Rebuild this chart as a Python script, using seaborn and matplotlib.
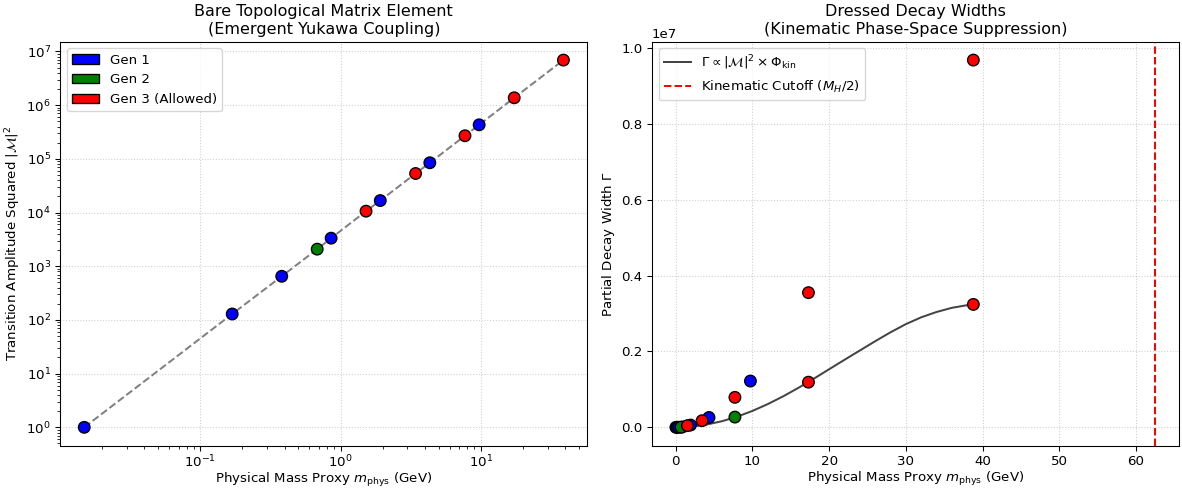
import matplotlib
matplotlib.use("Agg")
import matplotlib.pyplot as plt
from matplotlib.patches import Patch
import seaborn as sns
import pandas as pd

# --- left panel: bare matrix element per state ---
mass = [0.0149, 0.169, 0.381, 0.682, 0.857, 1.52, 1.92, 3.43, 4.33, 7.71, 9.73, 17.3, 38.8]
amp2 = [1.0, 129, 650, 2080, 3330, 10600, 16700, 53300, 84500, 269000, 430000, 1.37e6, 6.9e6]
gen = ["Gen 1", "Gen 1", "Gen 1", "Gen 2", "Gen 1", "Gen 3", "Gen 1", "Gen 3",
       "Gen 1", "Gen 3", "Gen 1", "Gen 3", "Gen 3"]

# --- right panel: dressed widths (blue first, then green, then red) ---
w_mass = [0.0149, 0.169, 0.381, 0.857, 1.92, 4.33, 9.73,
          0.682, 7.71,
          1.52, 3.43, 7.71, 17.3, 17.3, 38.8, 38.8]
w_gamma = [0.0, 0.0001e6, 0.002e6, 0.01e6, 0.06e6, 0.26e6, 1.22e6,
           0.002e6, 0.27e6,
           0.044e6, 0.175e6, 0.79e6, 1.19e6, 3.55e6, 3.24e6, 9.68e6]
w_gen = ["Gen 1"] * 7 + ["Gen 2"] * 2 + ["Gen 3"] * 7

# phase-space curve
curve_m = [0.0149, 2, 4, 6, 8, 10, 12, 14, 16, 18, 20, 22, 24, 26, 28, 30, 32, 34, 36, 38, 38.8]
curve_g = [0.0, 0.018e6, 0.072e6, 0.160e6, 0.281e6, 0.433e6, 0.613e6, 0.817e6, 1.042e6,
           1.282e6, 1.532e6, 1.780e6, 2.025e6, 2.270e6, 2.505e6, 2.720e6, 2.900e6,
           3.040e6, 3.150e6, 3.220e6, 3.240e6]

cutoff = 62.5
gen_colors = {"Gen 1": "blue", "Gen 2": "green", "Gen 3": "red"}

df_bare = pd.DataFrame({"mass": mass, "amp2": amp2, "gen": gen})
df_width = pd.DataFrame({"mass": w_mass, "gamma": w_gamma, "gen": w_gen})
df_curve = pd.DataFrame({"mass": curve_m, "gamma": curve_g})

fig, axes = plt.subplots(1, 2, figsize=(1182 / 96, 488 / 96), dpi=96)

# Left: log-log matrix element
ax = axes[0]
ax.plot(df_bare["mass"], df_bare["amp2"], "--", color="gray", lw=1.5, zorder=1)
sns.scatterplot(data=df_bare, x="mass", y="amp2", hue="gen", palette=gen_colors,
                s=75, edgecolor="black", linewidth=1, legend=False, zorder=3, ax=ax)
ax.set_xscale("log")
ax.set_yscale("log")
ax.set_xlabel(r"Physical Mass Proxy $m_{\rm phys}$ (GeV)")
ax.set_ylabel(r"Transition Amplitude Squared $|\mathcal{M}|^2$")
ax.set_title("Bare Topological Matrix Element\n(Emergent Yukawa Coupling)")
ax.grid(True, which="major", ls=":", alpha=0.6)
ax.tick_params(axis="x", which="major", pad=2.5)
handles = [Patch(facecolor="blue", edgecolor="black", label="Gen 1"),
           Patch(facecolor="green", edgecolor="black", label="Gen 2"),
           Patch(facecolor="red", edgecolor="black", label="Gen 3 (Allowed)")]
ax.legend(handles=handles, loc="upper left")
ax.xaxis.set_label_coords(0.5, -0.063)
ax.yaxis.set_label_coords(-0.071, 0.5)

# Right: dressed widths
ax = axes[1]
sns.lineplot(data=df_curve, x="mass", y="gamma", color="#444444", lw=1.5, ax=ax,
             label=r"$\Gamma \propto |\mathcal{M}|^2 \times \Phi_{\rm kin}$", zorder=2)
ax.axvline(cutoff, color="red", ls="--", lw=1.5, label=r"Kinematic Cutoff ($M_H/2$)")
sns.scatterplot(data=df_width, x="mass", y="gamma", hue="gen", palette=gen_colors,
                s=75, edgecolor="black", linewidth=1, legend=False, zorder=3, ax=ax)
ax.set_xlabel(r"Physical Mass Proxy $m_{\rm phys}$ (GeV)")
ax.set_ylabel(r"Partial Decay Width $\Gamma$")
ax.set_title("Dressed Decay Widths\n(Kinematic Phase-Space Suppression)")
ax.grid(True, ls=":", alpha=0.6)
ax.legend(loc="upper left")
ax.xaxis.set_label_coords(0.5, -0.06)
ax.yaxis.set_label_coords(-0.067, 0.5)

fig.subplots_adjust(left=0.051, right=0.9975, bottom=0.0867, top=0.9145, wspace=0.1225)
fig.savefig("out.png", dpi=96)
